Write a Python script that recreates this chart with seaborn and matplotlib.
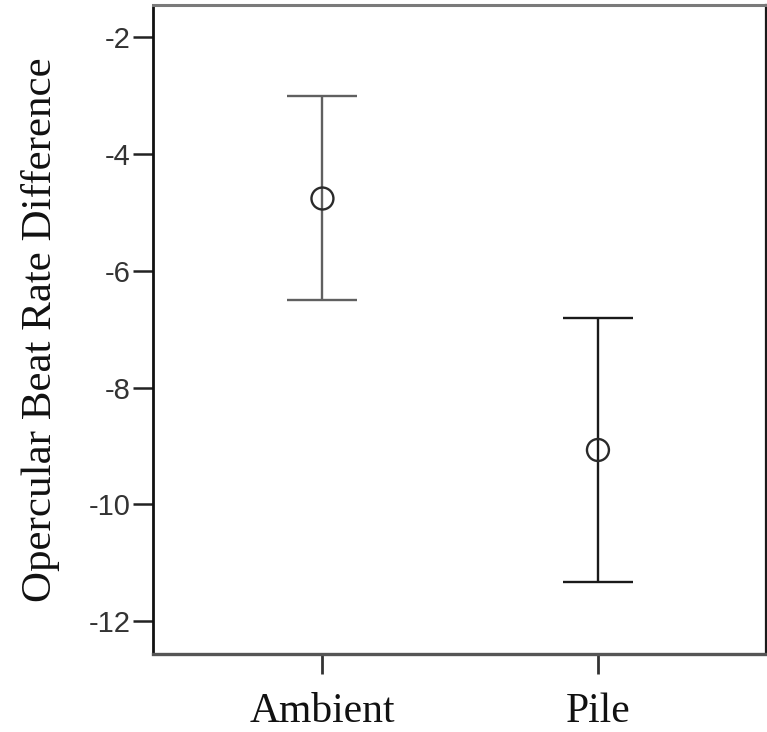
import matplotlib
matplotlib.use("Agg")
import matplotlib.pyplot as plt
import seaborn as sns
import numpy as np
import pandas as pd

# Values (mean and 95% CI limits)
groups = ["Ambient", "Pile"]
means = [-4.76, -9.07]
ci_lower = [-6.50, -11.33]
ci_upper = [-3.01, -6.80]
bar_colors = ["#606060", "#1a1a1a"]
y_ticks = [-12, -10, -8, -6, -4, -2]

sns.set_theme(style="white")
plt.rcParams['font.family'] = ['Liberation Sans', 'DejaVu Sans']

df = pd.DataFrame({"group": groups, "mean": means,
                   "lower": ci_lower, "upper": ci_upper})

fig = plt.figure(figsize=(7.67, 7.32), dpi=100)
ax = fig.add_axes([0.1995, 0.1066, 0.7992, 0.8866])

# Error bars, one per group so each keeps its own colour
for i, row in df.iterrows():
    ax.errorbar([row["group"]], [row["mean"]],
                yerr=[[row["mean"] - row["lower"]], [row["upper"] - row["mean"]]],
                fmt="none", ecolor=bar_colors[i], elinewidth=1.7,
                capsize=25, capthick=1.7, zorder=2)

# hollow mean markers, the bar shows through them
sns.scatterplot(data=df, x="group", y="mean", ax=ax, marker="o", s=250,
                facecolor="none", edgecolor="#2a2a2a", linewidth=1.7,
                zorder=3, legend=False)

ax.set_xlim(-0.615, 1.61)
ax.set_ylim(-12.566, -1.443)
ax.set_yticks(y_ticks)
ax.set_yticklabels([str(t) for t in y_ticks], fontsize=21, color="#333333")
ax.set_xticks(range(len(groups)))
ax.set_xticklabels(groups, fontsize=30, family=['Liberation Serif'], color="#111111")

ax.set_xlabel("")
ax.set_ylabel("Opercular Beat Rate Difference", fontsize=31,
              family=['Liberation Serif'], color="#111111", labelpad=21)

ax.tick_params(axis="y", direction="out", length=14.4, width=1.8,
               color="#222222", pad=1.5, left=True)
ax.tick_params(axis="x", direction="out", length=14.4, width=2.0,
               color="#333333", pad=13, bottom=True)

ax.spines["left"].set_color("#111111")
ax.spines["left"].set_linewidth(2.0)
ax.spines["top"].set_color("#7a7a7a")
ax.spines["top"].set_linewidth(2.2)
ax.spines["right"].set_color("#1a1a1a")
ax.spines["right"].set_linewidth(1.6)
ax.spines["bottom"].set_color("#555555")
ax.spines["bottom"].set_linewidth(2.4)

fig.savefig("out.png", dpi=100)
